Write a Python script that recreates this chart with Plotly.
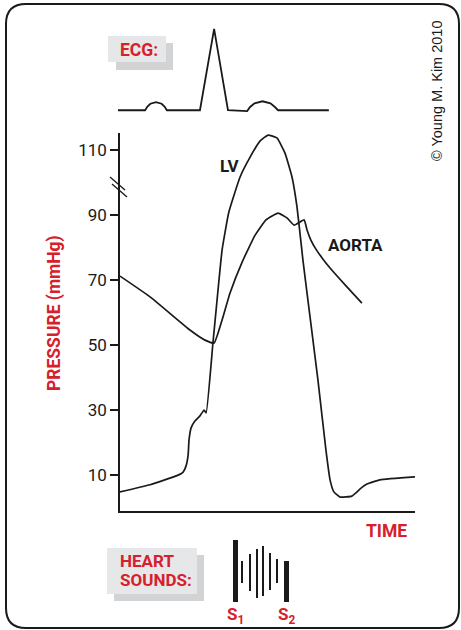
import plotly.graph_objects as go

# ---------------- data ----------------
# time axis in arbitrary units (0..100 across the plot)
lv_t = [0, 10.2, 19.3, 21.4, 22.4, 23.1, 23.4, 24.1, 25.4, 27.1, 28.5, 29.2, 31.5, 32.9,
        34.6, 36.9, 40.7, 44.1, 47.5, 50.2, 53.2, 55.9, 58.3, 60.0, 62.0, 63.7, 67.1,
        69.8, 71.2, 72.5, 74.6, 78.6, 80.0, 81.4, 83.7, 88.1, 100]
lv_p = [4.8, 7.0, 9.8, 10.9, 12.8, 16.2, 20.8, 24.5, 26.6, 28.2, 30.0, 29.1, 50.6, 63.8,
        79.2, 90.9, 101.7, 107.8, 112.8, 114.6, 113.7, 109.1, 101.7, 92.5, 76.2, 63.8, 39.2,
        17.7, 8.5, 4.8, 3.2, 3.5, 4.5, 5.7, 7.2, 8.5, 9.4]

ao_t = [0, 10.2, 23.7, 28.8, 31.9, 34.6, 37.3, 41.4, 45.8, 49.5, 53.6, 56.6, 59.0, 62.4,
        63.4, 64.7, 66.4, 68.5, 71.2, 76.3, 82.0]
ao_p = [71.2, 64.8, 54.6, 51.5, 50.6, 57.7, 66.0, 75.5, 83.8, 88.5, 90.6, 89.1, 86.9, 88.5,
        85.4, 82.3, 79.5, 76.8, 73.7, 68.5, 62.9]

ecg_t = [-0.7, 8.5, 9.3, 10.3, 12.2, 14.1, 15.1, 15.9, 27.1, 31.9, 36.6, 43.1, 44.1, 45.6,
         48.3, 51.0, 52.5, 53.6, 70.8]
ecg_mv = [0, 0, 0.045, 0.08, 0.1, 0.08, 0.045, 0, 0, 1.0, 0, -0.01, 0.04, 0.085,
          0.11, 0.085, 0.04, 0, 0]

snd_t = [39.2, 41.4, 44.1, 46.4, 48.5, 50.8, 53.2, 56.6]
snd_base = [0.0, 0.31, 0.18, 0.06, 0.10, 0.19, 0.31, 0.0]
snd_top = [1.0, 0.66, 0.77, 0.85, 0.90, 0.79, 0.69, 0.66]
snd_kind = ["S1", "m", "m", "m", "m", "m", "m", "S2"]

y_ticks = [10, 30, 50, 70, 90, 110]

# ---------------- styling ----------------
W, H = 461, 630
RED = "#d6202b"
INK = "#1a1a1a"
BOLDF = "Roboto, Liberation Sans Narrow, DejaVu Sans Condensed, sans-serif"
REG = "Liberation Sans, Arial, DejaVu Sans, sans-serif"


def px(x):
    return x / W


def py(y):
    return 1 - y / H


fig = go.Figure()

fig.add_trace(go.Scatter(x=lv_t, y=lv_p, mode="lines", xaxis="x", yaxis="y",
                         line=dict(color=INK, width=1.7, shape="spline", smoothing=0.4),
                         hoverinfo="skip", showlegend=False))
fig.add_trace(go.Scatter(x=ao_t, y=ao_p, mode="lines", xaxis="x", yaxis="y",
                         line=dict(color=INK, width=1.7, shape="spline", smoothing=0.4),
                         hoverinfo="skip", showlegend=False))
fig.add_trace(go.Scatter(x=ecg_t, y=ecg_mv, mode="lines", xaxis="x2", yaxis="y2",
                         line=dict(color=INK, width=1.8),
                         hoverinfo="skip", showlegend=False))

widths = [1.7 if k != "m" else 0.55 for k in snd_kind]
fig.add_trace(go.Bar(x=snd_t, y=[t - b for t, b in zip(snd_top, snd_base)], base=snd_base,
                     width=widths, xaxis="x3", yaxis="y3",
                     marker=dict(color=INK, line=dict(width=0)),
                     hoverinfo="skip", showlegend=False))

x_dom = [px(120), px(415)]
fig.update_layout(
    width=W, height=H, autosize=False,
    margin=dict(l=0, r=0, t=0, b=0),
    paper_bgcolor="white", plot_bgcolor="rgba(0,0,0,0)",
    xaxis=dict(domain=x_dom, range=[0, 100], showline=True, linecolor=INK, linewidth=1.6,
               showticklabels=False, ticks="", showgrid=False, zeroline=False, fixedrange=True),
    yaxis=dict(domain=[py(511), py(133)], range=[-1.08, 115.23], showline=True,
               linecolor=INK, linewidth=1.6, ticks="outside", ticklen=8, tickwidth=1.6,
               tickcolor=INK, tickvals=y_ticks, ticktext=[str(v) for v in y_ticks],
               tickfont=dict(family=BOLDF, size=17, color=INK),
               showgrid=False, zeroline=False, fixedrange=True),
    xaxis2=dict(domain=[px(120 - 5 * 2.95), px(415)], range=[-5, 100], visible=False,
                anchor="y2", fixedrange=True),
    yaxis2=dict(domain=[py(120), py(20)], range=[-0.12, 1.11], visible=False,
                anchor="x2", fixedrange=True),
    xaxis3=dict(domain=x_dom, range=[0, 100], visible=False, anchor="y3", fixedrange=True),
    yaxis3=dict(domain=[py(602), py(540)], range=[0, 1], visible=False, anchor="x3",
                fixedrange=True),
    bargap=0,
)

shapes = []
# rounded frame
l, r, t, b = px(6), px(459), py(4), py(628)
rx, ry = 20 / W, 20 / H
path = (f"M {l+rx},{t} L {r-rx},{t} Q {r},{t} {r},{t-ry} L {r},{b+ry} Q {r},{b} {r-rx},{b} "
        f"L {l+rx},{b} Q {l},{b} {l},{b+ry} L {l},{t-ry} Q {l},{t} {l+rx},{t} Z")
shapes.append(dict(type="path", path=path, xref="paper", yref="paper",
                   line=dict(color=INK, width=2), fillcolor="rgba(0,0,0,0)", layer="below"))
# label boxes (shadow + face)
for (x0, y0, x1, y1), col in [((116, 43, 173, 70), "#d1d3d4"), ((108, 36, 166, 62), "#e6e7e8"),
                              ((114, 555, 204, 601), "#d1d3d4"), ((107, 548, 197, 594), "#e6e7e8")]:
    shapes.append(dict(type="rect", xref="paper", yref="paper", x0=px(x0), x1=px(x1),
                       y0=py(y1), y1=py(y0), fillcolor=col, line=dict(width=0), layer="below"))
# axis break marks
for (x0, y0, x1, y1) in [(110, 177, 125, 190), (112, 184, 127, 197)]:
    shapes.append(dict(type="line", xref="paper", yref="paper", x0=px(x0), y0=py(y0),
                       x1=px(x1), y1=py(y1), line=dict(color=INK, width=1.3)))
fig.update_layout(shapes=shapes)

ann = []


def label(text, x, y, size, color, family=BOLDF, bold=True, angle=0, xanchor="center"):
    ann.append(dict(text=f"<b>{text}</b>" if bold else text, x=px(x), y=py(y),
                    xref="paper", yref="paper", showarrow=False, textangle=angle,
                    xanchor=xanchor, yanchor="middle",
                    font=dict(family=family, size=size, color=color)))


label("ECG:", 118, 50, 17.5, RED, xanchor="left")
label("HEART", 118, 561, 17, RED, xanchor="left")
label("SOUNDS:", 118, 580, 17, RED, xanchor="left")
label("PRESSURE (mmHg)", 54, 313, 17.5, RED, angle=-90)
label("TIME", 386, 531, 17.5, RED)
label("LV", 230, 166, 17, INK)
label("AORTA", 355, 245, 17, INK)
label("© Young M. Kim 2010", 437, 91, 14.5, INK, family=REG, bold=False, angle=-90)

for tt, k in zip(snd_t, snd_kind):
    if k in ("S1", "S2"):
        ann.append(dict(text=f"<b>S<sub>{k[1]}</sub></b>", x=tt, y=py(615), xref="x3",
                        yref="paper", showarrow=False, xanchor="center", yanchor="middle",
                        font=dict(family=BOLDF, size=17, color=RED)))

fig.update_layout(annotations=ann)
fig.write_html("out.html", config={"displayModeBar": False},
               post_script="document.body.style.margin='0px';document.body.style.padding='0px';")
